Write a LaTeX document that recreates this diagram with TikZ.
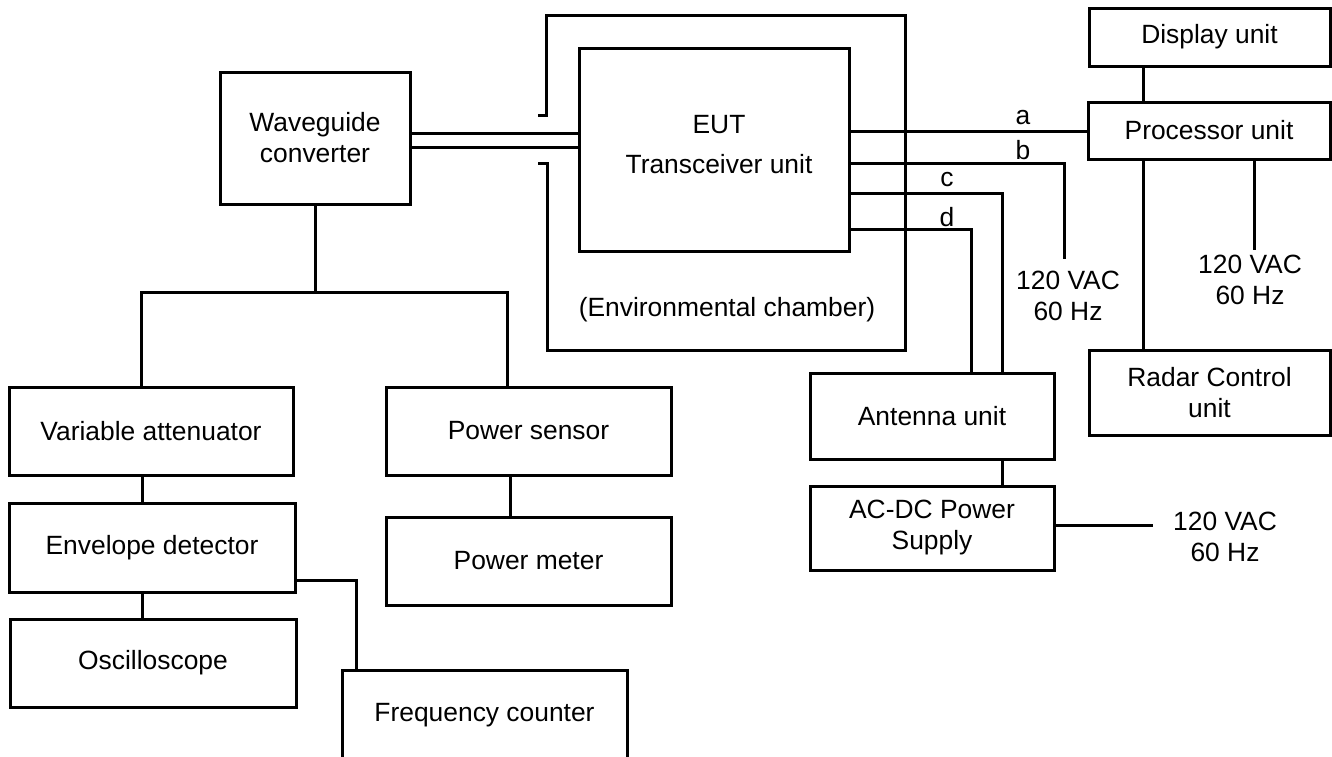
\documentclass[tikz,border=0pt]{standalone}
\usepackage{fontspec}
\setmainfont{Liberation Sans}
\newcommand\fs{\fontsize{13.2}{15.5}\selectfont}
\begin{document}
\begin{tikzpicture}[x=0.5pt,y=-0.5pt,
  bx/.style 2 args={draw, line width=1.5pt, inner sep=0pt, outer sep=0pt,
    minimum width=#1*0.5pt, minimum height=#2*0.5pt, align=center, font=\fs},
  lbl/.style={inner sep=0pt, align=center, font=\fs},
  wire/.style={line width=1.5pt, line join=miter}]
\useasboundingbox (0,0) rectangle (1332,756);
\clip (0,0) rectangle (1332,756);
% boxes
\node[bx={190}{132}] (wg) at (315,138) {Waveguide\\converter};
\node[bx={270}{203}] (eut) at (714,149.5) {};
\node[lbl] (eutl) at (719,145) {EUT\\[4.5pt]Transceiver unit};
\node[bx={284}{88}] (var) at (151,431) {Variable attenuator};
\node[bx={286}{89}] (env) at (152,547.5) {Envelope detector};
\node[bx={286}{88}] (osc) at (153,663) {Oscilloscope};
\node[bx={285}{90}] (freq) at (484.5,715) {Frequency counter};
\node[bx={285}{88}] (psens) at (528.5,431) {Power sensor};
\node[bx={285}{88}] (pmeter) at (528.5,561) {Power meter};
\node[bx={241}{58}] (disp) at (1209.5,37) {Display unit};
\node[bx={242}{57}] (proc) at (1209,130.5) {Processor unit};
\node[bx={241}{85}] (radar) at (1209.5,392.5) {Radar Control\\unit};
\node[bx={244}{86}] (ant) at (932,416) {Antenna unit};
\node[bx={244}{84}] (acdc) at (932,528) {AC-DC Power\\Supply};
% text labels
\node[lbl] (chl) at (727,310) {(Environmental chamber)};
\node[lbl] (vac1) at (1068,296) {120 VAC\\60 Hz};
\node[lbl] (vac2) at (1250,280) {120 VAC\\60 Hz};
\node[lbl] (vac3) at (1225,537) {120 VAC\\60 Hz};
\node[lbl] (la) at (1023,118) {a};
\node[lbl] (lb) at (1023,150) {b};
\node[lbl] (lc) at (947,180) {c};
\node[lbl] (ld) at (947,217) {d};
% free-end coordinates
\coordinate (split) at (315,292);
\coordinate (vb) at (1064,259);
\coordinate (pv) at (1254,250);
\coordinate (acend) at (1153,525);
% environmental chamber
\draw[wire] (538,115) -- (546,115) -- (546,15) -- (905,15) -- (905,350) -- (547,350) -- (547,163) -- (538,163);
% waveguide double line
\draw[wire] (wg.east |- 0,133) -- (eut.west |- 0,133);
\draw[wire] (wg.east |- 0,147) -- (eut.west |- 0,147);
% tree
\draw[wire] (wg.south) -- (split);
\draw[wire] (var.north -| 141,0) -- (141,292) -- (507,292) -- (psens.north -| 507,0);
\draw[wire] (var.south -| 142,0) -- (env.north -| 142,0);
\draw[wire] (env.south -| 142,0) -- (osc.north -| 142,0);
\draw[wire] (env.east |- 0,580) -- (356,580) -- (freq.north -| 356,0);
\draw[wire] (psens.south -| 510,0) -- (pmeter.north -| 510,0);
% EUT lines
\draw[wire] (eut.east |- 0,131) -- (proc.west |- 0,131);
\draw[wire] (eut.east |- 0,163) -- (1064,163) -- (vb);
\draw[wire] (eut.east |- 0,193) -- (1002,193) -- (ant.north -| 1002,0);
\draw[wire] (eut.east |- 0,229) -- (971,229) -- (ant.north -| 971,0);
% right side
\draw[wire] (disp.south -| 1143,0) -- (proc.north -| 1143,0);
\draw[wire] (proc.south -| 1143,0) -- (radar.north -| 1143,0);
\draw[wire] (proc.south -| 1254,0) -- (pv);
\draw[wire] (ant.south -| 1002,0) -- (acdc.north -| 1002,0);
\draw[wire] (acdc.east |- 0,525) -- (acend);
\end{tikzpicture}
\end{document}
